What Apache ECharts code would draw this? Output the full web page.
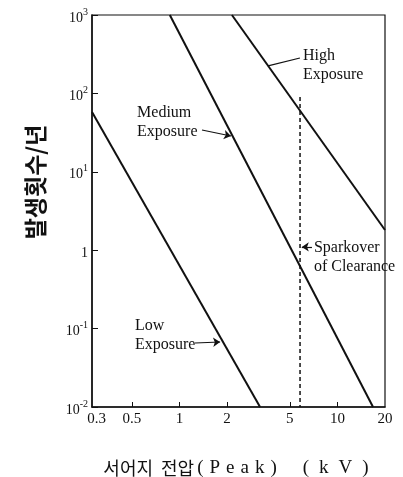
<!DOCTYPE html>
<html>
<head>
<meta charset="utf-8">
<script src="https://cdn.jsdelivr.net/npm/echarts@6/dist/echarts.min.js"></script>
<style>
html, body { margin: 0; padding: 0; background: #fff; }
#chart { width: 403px; height: 477px; }
</style>
</head>
<body>
<div id="chart"></div>
<script>
// 서어지 전압 - 발생횟수 (log-log)
var xLabels = [0.3, 0.5, 1, 2, 5, 10, 20];
var xTickValues = [0.5, 1, 2, 5, 10];
var lowExposure = [[0.28, 58], [3.24, 0.01]];
var mediumExposure = [[0.87, 1000], [16.8, 0.01]];
var highExposure = [[2.15, 1000], [20, 1.81]];
var sparkover = [[5.8, 90], [5.8, 0.01]];

// 주석 글자와 화살표
var noteTexts = ['High\nExposure', 'Medium\nExposure', 'Sparkover\nof Clearance', 'Low\nExposure'];
var noteAt = [[6.06, 402], [0.54, 75], [7.1, 1.43], [0.524, 0.145]];
var arrowFrom = [[5.79, 283], [1.39, 34.1], [6.9, 1.1], [1.256, 0.0655]];
var arrowTo = [[3.64, 224], [2.12, 28.6], [5.95, 1.1], [1.81, 0.0675]];
var arrowHead = [false, true, true, true];

var serif = 'Liberation Serif';
var ink = '#111';

var myChart = echarts.init(document.getElementById('chart'));

function curve(data, dashed) {
	return {
		type: 'line',
		data: data,
		showSymbol: false,
		silent: true,
		lineStyle: {
			color: ink,
			width: dashed ? 1.5 : 2,
			type: dashed ? [4, 3] : 'solid'
		}
	};
}

// 글자 사이를 벌려서 쓰기 (rich text)
function spaced(str, style) {
	var out = '';
	for (var k = 0; k < str.length; k++) {
		out += '{' + style + '|' + str.charAt(k) + '}';
	}
	return out;
}

var arrowLines = [];
for (var i = 0; i < arrowFrom.length; i++) {
	arrowLines.push([
		{ coord: arrowFrom[i], symbol: 'none' },
		{ coord: arrowTo[i], symbol: arrowHead[i] ? 'arrow' : 'none' }
	]);
}

var option = {
	animation: false,
	backgroundColor: '#fff',
	grid: {
		left: 92,
		top: 15,
		right: 18,
		bottom: 70,
		show: true,
		borderColor: ink,
		borderWidth: 1.2,
		outerBoundsMode: 'none'
	},
	xAxis: {
		type: 'log',
		logBase: 10,
		min: 0.28,
		max: 20,
		name: '{k|서어지}{sp| }{k|전압}' + spaced('(Peak)', 'p') + '{gap| }' + spaced('(kV)', 'v'),
		nameLocation: 'middle',
		nameGap: 52,
		nameTextStyle: {
			color: ink,
			fontSize: 18,
			rich: {
				k: { fontSize: 18, fontFamily: 'Noto Sans CJK KR', color: ink },
				sp: { width: 8 },
				p: { fontSize: 19, fontFamily: serif, color: ink, padding: [0, 3, 0, 3] },
				gap: { width: 18 },
				v: { fontSize: 19, fontFamily: serif, color: ink, padding: [0, 5, 0, 5] }
			}
		},
		axisLine: { show: true, lineStyle: { color: ink, width: 1.5 } },
		axisTick: {
			show: true,
			inside: true,
			length: 5,
			customValues: xTickValues,
			lineStyle: { color: ink }
		},
		minorTick: { show: false },
		splitLine: { show: false },
		axisLabel: {
			customValues: xLabels,
			color: ink,
			fontSize: 15,
			fontFamily: serif,
			margin: 5,
			formatter: function (v) {
				return String(+(+v).toPrecision(3));
			}
		}
	},
	yAxis: {
		type: 'log',
		logBase: 10,
		min: 0.01,
		max: 1000,
		name: '발생횟수/년',
		nameLocation: 'middle',
		nameRotate: 90,
		nameGap: 45,
		nameTextStyle: {
			color: ink,
			fontSize: 23,
			fontWeight: 'bold',
			fontFamily: 'Noto Sans CJK KR',
			padding: [0, 0, 0, 58]
		},
		axisLine: { show: true, lineStyle: { color: ink, width: 1.5 } },
		axisTick: { show: true, inside: true, length: 6, lineStyle: { color: ink } },
		minorTick: { show: false },
		splitLine: { show: false },
		axisLabel: {
			color: ink,
			margin: 4,
			formatter: function (v) {
				var e = Math.round(Math.log10(v));
				if (e === 0) return '{b|1}';
				return '{b|10}{s|' + (e < 0 ? '-' + (-e) : e) + '}';
			},
			rich: {
				b: { fontSize: 14, fontFamily: serif, color: ink, padding: [6, 0, 0, 0] },
				s: { fontSize: 10, fontFamily: serif, color: ink, padding: [0, 0, 6, 0] }
			}
		}
	},
	series: [
		curve(lowExposure),
		curve(mediumExposure),
		curve(highExposure),
		curve(sparkover, true),
		{
			type: 'line',
			data: [],
			silent: true,
			markLine: {
				silent: true,
				symbolSize: 7,
				label: { show: false },
				lineStyle: { color: ink, width: 1.2, type: 'solid' },
				data: arrowLines
			}
		}
	]
};

myChart.setOption(option, true);

// 주석 글자는 좌표축 위치로 변환해서 배치
var texts = [];
for (var j = 0; j < noteTexts.length; j++) {
	var p = myChart.convertToPixel({ gridIndex: 0 }, noteAt[j]);
	texts.push({
		type: 'text',
		x: p[0],
		y: p[1],
		silent: true,
		style: {
			text: noteTexts[j],
			fill: ink,
			font: '16px ' + serif,
			lineHeight: 19,
			textAlign: 'left',
			textVerticalAlign: 'top'
		}
	});
}
myChart.setOption({ graphic: texts });

window.addEventListener('resize', function () {
	myChart.resize();
});
</script>
</body>
</html>
